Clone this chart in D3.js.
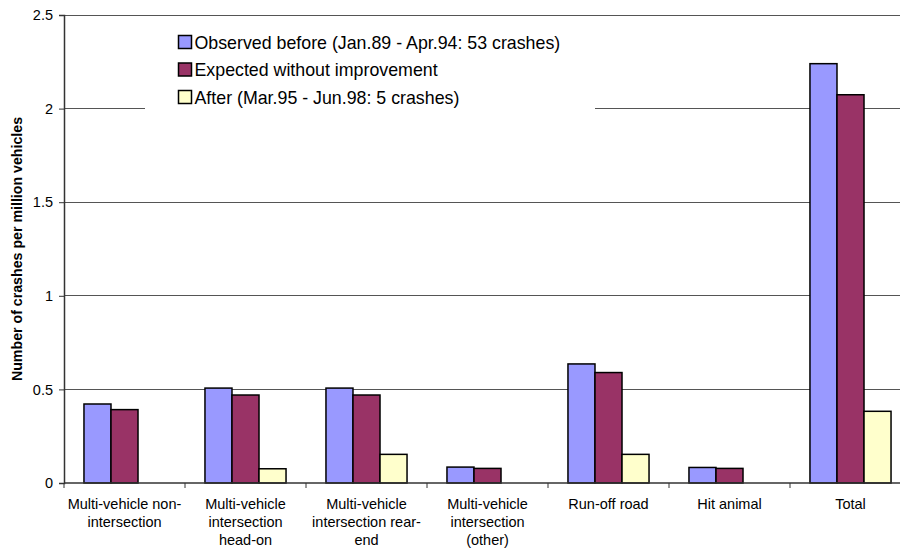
<!DOCTYPE html>
<html>
<head>
<meta charset="utf-8">
<script src="https://cdn.jsdelivr.net/npm/d3@7"></script>
<style>
  html, body { margin: 0; padding: 0; background: #fff; }
  svg { display: block; font-family: "Liberation Sans", Arial, sans-serif; }
</style>
</head>
<body>
<svg id="chart" width="900" height="551"></svg>
<script>
// Crash categories (label lines separated by "\n")
const categories = [
  "Multi-vehicle non-\nintersection",
  "Multi-vehicle\nintersection\nhead-on",
  "Multi-vehicle\nintersection rear-\nend",
  "Multi-vehicle\nintersection\n(other)",
  "Run-off road",
  "Hit animal",
  "Total"
];

const seriesNames = [
  "Observed before (Jan.89 - Apr.94: 53 crashes)",
  "Expected without improvement",
  "After (Mar.95 - Jun.98: 5 crashes)"
];

// Crashes per million vehicles
const observedBefore = [0.422, 0.507, 0.507, 0.085, 0.636, 0.083, 2.24];
const expectedWithout = [0.392, 0.470, 0.470, 0.078, 0.590, 0.078, 2.074];
const after = [0, 0.076, 0.153, 0, 0.153, 0, 0.383];

const yTicks = [0, 0.5, 1, 1.5, 2, 2.5];
const colors = ["#9999FF", "#993366", "#FFFFCC"];

const series = [observedBefore, expectedWithout, after];

const svg = d3.select("#chart");
const plotLeft = 64, plotRight = 911, plotTop = 15, plotBottom = 483;

const x = d3.scaleBand()
  .domain(categories)
  .range([plotLeft, plotRight])
  .paddingInner(0.33)
  .paddingOuter(0.165);

const xSub = d3.scaleBand()
  .domain(d3.range(series.length))
  .range([0, x.bandwidth()]);

const y = d3.scaleLinear().domain([0, 2.5]).range([plotBottom, plotTop]);

// Horizontal gridlines
svg.append("g")
  .selectAll("line")
  .data(yTicks.filter(d => d > 0))
  .join("line")
  .attr("x1", plotLeft).attr("x2", 900)
  .attr("y1", d => y(d)).attr("y2", d => y(d))
  .attr("stroke", "#555").attr("stroke-width", 1)
  .attr("shape-rendering", "crispEdges");

// Legend background masks the gridlines behind it
const legend = svg.append("g");
legend.append("rect")
  .attr("x", 145).attr("y", 26).attr("width", 450).attr("height", 94)
  .attr("fill", "#fff");

// Bars
const groups = svg.append("g")
  .selectAll("g")
  .data(categories)
  .join("g")
  .attr("transform", d => `translate(${x(d)},0)`);

groups.selectAll("rect")
  .data((d, i) => series.map((s, k) => ({ k, v: s[i] })).filter(e => e.v > 0))
  .join("rect")
  .attr("x", d => xSub(d.k))
  .attr("width", xSub.bandwidth())
  .attr("y", d => y(d.v))
  .attr("height", d => y(0) - y(d.v))
  .attr("fill", d => colors[d.k])
  .attr("stroke", "#000")
  .attr("stroke-width", 1.5);

// Y axis
const yAxis = svg.append("g")
  .attr("transform", `translate(${plotLeft},0)`)
  .call(d3.axisLeft(y).tickValues(yTicks).tickSize(5).tickPadding(6)
    .tickFormat(d3.format("")));
yAxis.select(".domain").attr("stroke", "#333").attr("stroke-width", 1.5);
yAxis.selectAll(".tick line").attr("stroke", "#333");
yAxis.selectAll(".tick text")
  .attr("font-size", 14.5).attr("fill", "#000")
  .attr("font-family", "Liberation Sans, Arial, sans-serif");

// X axis line and category ticks
svg.append("line")
  .attr("x1", plotLeft).attr("x2", 900)
  .attr("y1", plotBottom).attr("y2", plotBottom)
  .attr("stroke", "#333").attr("stroke-width", 1.5);

const step = x.step();
svg.append("g")
  .selectAll("line")
  .data(d3.range(categories.length + 1))
  .join("line")
  .attr("x1", i => plotLeft + i * step).attr("x2", i => plotLeft + i * step)
  .attr("y1", plotBottom).attr("y2", plotBottom + 5)
  .attr("stroke", "#333");

// Category labels
const labels = svg.append("g")
  .selectAll("text")
  .data(categories)
  .join("text")
  .attr("x", d => x(d) + x.bandwidth() / 2)
  .attr("y", 509)
  .attr("text-anchor", "middle")
  .attr("font-size", 14.5)
  .attr("fill", "#000");
labels.selectAll("tspan")
  .data(d => d.split("\n"))
  .join("tspan")
  .attr("x", function () { return d3.select(this.parentNode).attr("x"); })
  .attr("dy", (d, i) => i === 0 ? 0 : 18)
  .text(d => d);

// Y axis title
svg.append("text")
  .attr("transform", `translate(22,${(plotTop + plotBottom) / 2}) rotate(-90)`)
  .attr("text-anchor", "middle")
  .attr("font-size", 14.2)
  .attr("font-weight", "bold")
  .attr("fill", "#000")
  .text("Number of crashes per million vehicles");

// Legend entries
const items = legend.selectAll("g.item")
  .data(seriesNames)
  .join("g")
  .attr("class", "item")
  .attr("transform", (d, i) => `translate(178.5,${42 + i * 27.5})`);
items.append("rect")
  .attr("x", 0).attr("y", -6.5)
  .attr("width", 13).attr("height", 13)
  .attr("fill", (d, i) => colors[i])
  .attr("stroke", "#000").attr("stroke-width", 1.5);
items.append("text")
  .attr("x", 16).attr("y", 6.5)
  .attr("font-size", 17.8)
  .attr("fill", "#000")
  .text(d => d);
</script>
</body>
</html>
